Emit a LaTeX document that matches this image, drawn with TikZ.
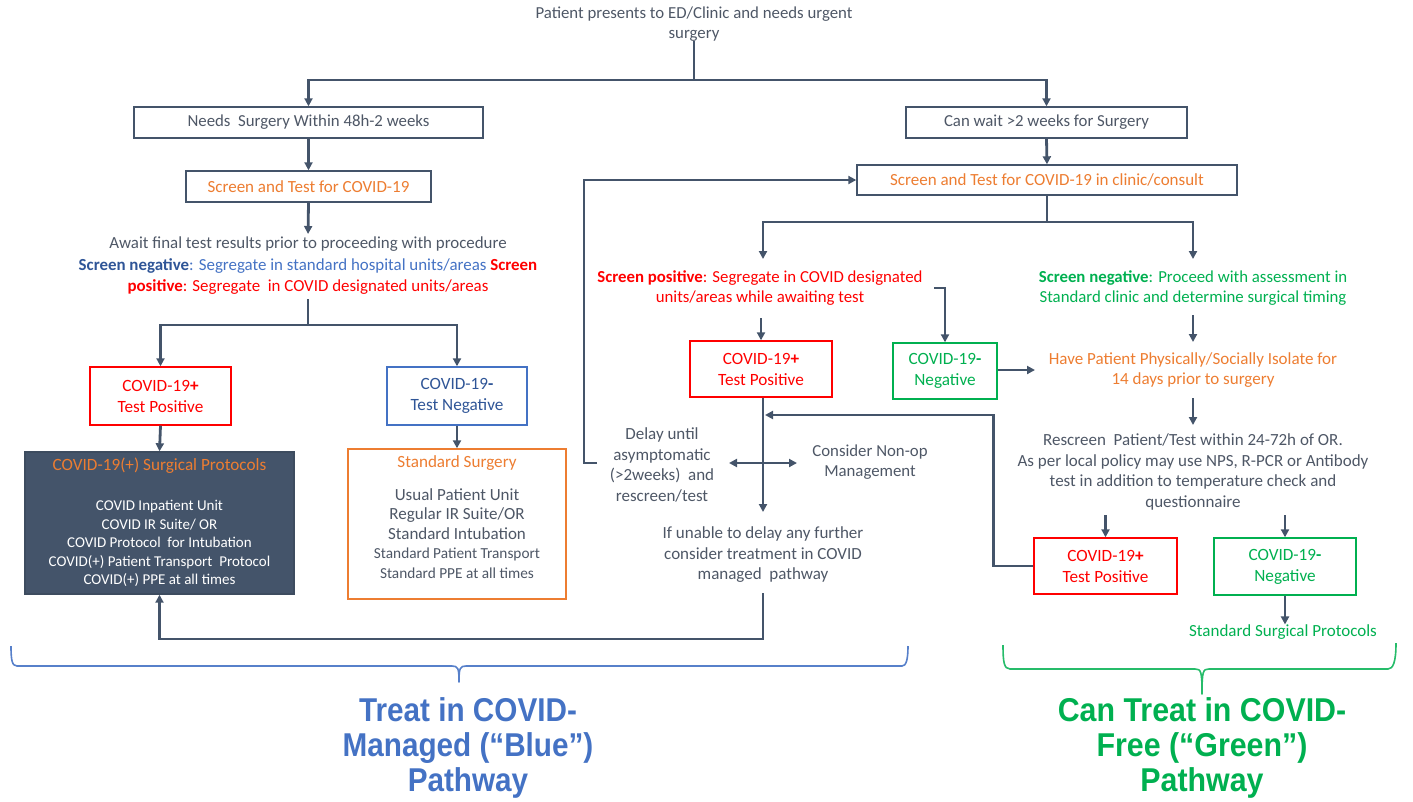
\documentclass[tikz,border=0pt]{standalone}
\usepackage{fontspec}
\setmainfont{Carlito}
\newfontfamily\headfont{Liberation Sans}
\usetikzlibrary{arrows.meta}

\definecolor{slate}{HTML}{44546A}
\definecolor{txtgray}{HTML}{4E5766}
\definecolor{orng}{HTML}{ED7D31}
\definecolor{rd}{HTML}{FF0000}
\definecolor{blu}{HTML}{4472C4}
\definecolor{dblu}{HTML}{2F5597}
\definecolor{grn}{HTML}{00B050}

\newcommand{\fs}[2]{\fontsize{#1}{#2}\selectfont}

\tikzset{
  ln/.style={draw=slate, line width=2.8pt},
  arr/.style={ln, -{Triangle[length=8pt,width=8pt]}},
  arrb/.style={ln, {Triangle[length=8pt,width=8pt]}-{Triangle[length=8pt,width=8pt]}},
  box/.style={draw=slate, line width=1.4pt, inner sep=0pt, align=center, fill=white},
  rbox/.style={box, draw=rd, text=rd, font=\fs{17.2}{21}},
  gbox/.style={box, draw=grn, text=grn, font=\fs{17.2}{21}},
  txt/.style={inner sep=0pt, align=center, text=txtgray},
  brc/.style={line width=1.6pt, line join=round},
}

\begin{document}
\begin{tikzpicture}[x=1pt, y=-1pt]
\useasboundingbox (0,0) rectangle (1413,801);

% ---------- top ----------
\node[txt, font=\fs{16.8}{20}] (top) at (694,24)
  {Patient presents to ED/Clinic and needs urgent\\surgery};
\coordinate (j1) at (694,80);

% ---------- left (urgent) branch ----------
\node[box, minimum width=349pt, minimum height=31pt, text=txtgray, font=\fs{16.8}{20}]
  (needs) at (308.5,122.5) {Needs\ \ Surgery Within 48h-2 weeks};
\node[box, minimum width=245pt, minimum height=31pt, text=orng, font=\fs{17}{20}]
  (scr1) at (308.5,186.5) {Screen and Test for COVID-19};
\node[txt, font=\fs{16.9}{21.5}] (await) at (308,266)
  {Await final test results prior to proceeding with procedure\\
   {\color{dblu}\bfseries Screen negative}{\color{blu}: Segregate in standard hospital units/areas} {\color{rd}\bfseries Screen}\\
   {\color{rd}\bfseries positive}{\color{rd}: Segregate\ \ in COVID designated units/areas}};
\coordinate (j2) at (308,325);

\node[rbox, minimum width=141pt, minimum height=58pt] (pos1) at (160.5,396)
  {COVID-19\textbf{+}\\Test Positive};
\node[box, draw=blu, text=dblu, minimum width=140pt, minimum height=58pt, font=\fs{17.2}{21}]
  (neg1) at (457,396) {COVID-19\textbf{-}\\Test Negative};

\node[box, draw=slate!90!black, fill=slate, minimum width=269pt, minimum height=142pt]
  (prot) at (159.5,523) {};
\node[txt, text=orng, font=\fs{17.2}{20}] (protT) at (159.5,466) {COVID-19(+) Surgical Protocols};
\node[txt, text=white, font=\fs{15}{18.6}] (protL) at (159.5,543.5)
  {COVID Inpatient Unit\\COVID IR Suite/ OR\\COVID Protocol\ \ for Intubation\\
   COVID(+) Patient Transport\ \ Protocol\\COVID(+) PPE at all times};

\node[box, draw=orng, minimum width=218pt, minimum height=150pt] (std) at (457,524) {};
\node[txt, text=orng, font=\fs{17.1}{20}] (stdT) at (457,463) {Standard Surgery};
\node[txt, font=\fs{17}{19.5}] (stdL) at (457,533.5)
  {Usual Patient Unit\\Regular IR Suite/OR\\Standard Intubation\\
   {\fs{15.3}{19.5}Standard Patient Transport}\\{\fs{15.3}{19.5}Standard PPE at all times}};

% ---------- right (elective) branch ----------
\node[box, minimum width=281pt, minimum height=31pt, text=txtgray, font=\fs{16.8}{20}]
  (wait) at (1046.5,122.5) {Can wait {>}2 weeks for Surgery};
\node[box, minimum width=380pt, minimum height=30pt, text=orng, font=\fs{17}{20}]
  (scr2) at (1047,180) {Screen and Test for COVID-19 in clinic/consult};
\coordinate (j3) at (1047,222);

\node[txt, text=rd, font=\fs{16.8}{20}] (spos) at (760,288)
  {\textbf{Screen positive}: Segregate in COVID designated\\units/areas while awaiting test};
\node[txt, text=grn, font=\fs{16.8}{20}] (sneg) at (1193,288)
  {\textbf{Screen negative}: Proceed with assessment in\\Standard clinic and determine surgical timing};

\node[rbox, minimum width=142pt, minimum height=56pt] (pos2) at (761,369)
  {COVID-19\textbf{+}\\Test Positive};
\node[gbox, minimum width=104pt, minimum height=56pt] (neg2) at (945,371)
  {COVID-19\textbf{-}\\Negative};

\node[txt, text=orng, font=\fs{17}{20}] (iso) at (1193,370)
  {Have Patient Physically/Socially Isolate for\\14 days prior to surgery};
\node[txt, font=\fs{17}{20.5}] (resc) at (1193,472)
  {Rescreen\ \ Patient/Test within 24-72h of OR.\\
   As per local policy may use NPS, R-PCR or Antibody\\
   test in addition to temperature check and\\questionnaire};

\node[rbox, minimum width=143pt, minimum height=56pt] (pos3) at (1105.5,566)
  {COVID-19\textbf{+}\\Test Positive};
\node[gbox, minimum width=142pt, minimum height=57pt] (neg3) at (1285,566.5)
  {COVID-19\textbf{-}\\Negative};
\node[txt, text=grn, font=\fs{17}{20}] (ssp) at (1283,632) {Standard Surgical Protocols};

\node[txt, font=\fs{17}{20.7}] (delay) at (662,465)
  {Delay until\\asymptomatic\\({>}2weeks)\ \ and\\rescreen/test};
\node[txt, font=\fs{16.8}{20}] (nonop) at (870,462) {Consider Non-op\\Management};
\node[txt, font=\fs{17}{20.5}] (unable) at (763,555)
  {If unable to delay any further\\consider treatment in COVID\\managed\ \ pathway};

% ---------- pathway labels ----------
\node[inner sep=0pt, align=center, text=blu, font=\headfont\bfseries\fs{33}{35}] (blueL) at (468,748)
  {\scalebox{0.9}[1]{Treat in COVID-}\\\scalebox{0.9}[1]{Managed (“Blue”)}\\\scalebox{0.9}[1]{Pathway}};
\node[inner sep=0pt, align=center, text=grn, font=\headfont\bfseries\fs{33}{35}] (greenL) at (1202,748)
  {\scalebox{0.92}[1]{Can Treat in COVID-}\\\scalebox{0.92}[1]{Free (“Green”)}\\\scalebox{0.92}[1]{Pathway}};

% ---------- connectors ----------
\draw[ln] (top.south) -- (j1);
\draw[arr] (j1) -| (needs.north);
\draw[arr] (j1) -| (wait.north);

\draw[arr] (needs.south) -- (scr1.north);
\draw[arr, shorten >=3pt] (scr1.south) -- (await.north);
\draw[ln, shorten <=4pt] (await.south) -- (j2);
\draw[arr] (j2) -| (pos1.north);
\draw[arr] (j2) -| (neg1.north);
\draw[arr] (pos1.south) -- (prot.north);
\draw[arr] (neg1.south) -- (std.north);

\draw[arr] (wait.south) -- (scr2.north);
\draw[ln] (scr2.south) -- (j3);
\coordinate (sposTop) at (763,259);
\coordinate (snegTop) at (1193,259);
\draw[arr] (j3) -| (sposTop);
\draw[arr] (j3) -| (snegTop);

\draw[arr] (pos2.north |- 0,318) -- (pos2.north);
\coordinate (b1) at (934,288);
\draw[arr] (b1) -| (neg2.north);
\coordinate (isoL) at (1035,370);
\draw[arr] (neg2.east |- isoL) -- (isoL);
\draw[arr] (1193,315) -- (1193,342);
\draw[arr] (1193,398) -- (1193,425);
\draw[arr] (pos3.north |- 0,515) -- (pos3.north);
\draw[arr] (neg3.north |- 0,515) -- (neg3.north);
\draw[arr] (neg3.south) -- (neg3.south |- ssp.north);

% COVID positive in clinic: delay / non-op / proceed
\coordinate (vEnd) at (763,512);
\draw[arr] (pos2.south -| vEnd) -- (vEnd);
\coordinate (hL) at (729,463);
\coordinate (hR) at (797,463);
\draw[arrb] (hL) -- (hR);
\coordinate (retIn) at (765,415);
\draw[arr] (pos3.west) -- ++(-40,0) |- (retIn);

% rescreen loop back to clinic screening
\coordinate (dL) at (597,463);
\draw[arr] (dL) -- (584,463) |- (scr2.west);

% escalate to COVID-managed pathway
\coordinate (uB) at (763,593);
\draw[arr] (uB) -- (763,639) -| (prot.south);

% ---------- braces ----------
\draw[brc, blu!90!white]
  (11,646) .. controls (11,660) and (12,666) .. (17,666) -- (452,666)
  .. controls (458,666) and (459,668) .. (459,682)
  .. controls (459,668) and (460,666) .. (466,666) -- (902,666)
  .. controls (906,666) and (908,660) .. (908,646);
\draw[brc, grn!85!white]
  (1003,645) .. controls (1003,662) and (1004,669) .. (1010,669) -- (1195,669)
  .. controls (1201,669) and (1202,671) .. (1202,694)
  .. controls (1202,671) and (1203,669) .. (1209,669) -- (1388,669)
  .. controls (1393,669) and (1396,662) .. (1396,643);

\end{tikzpicture}
\end{document}
